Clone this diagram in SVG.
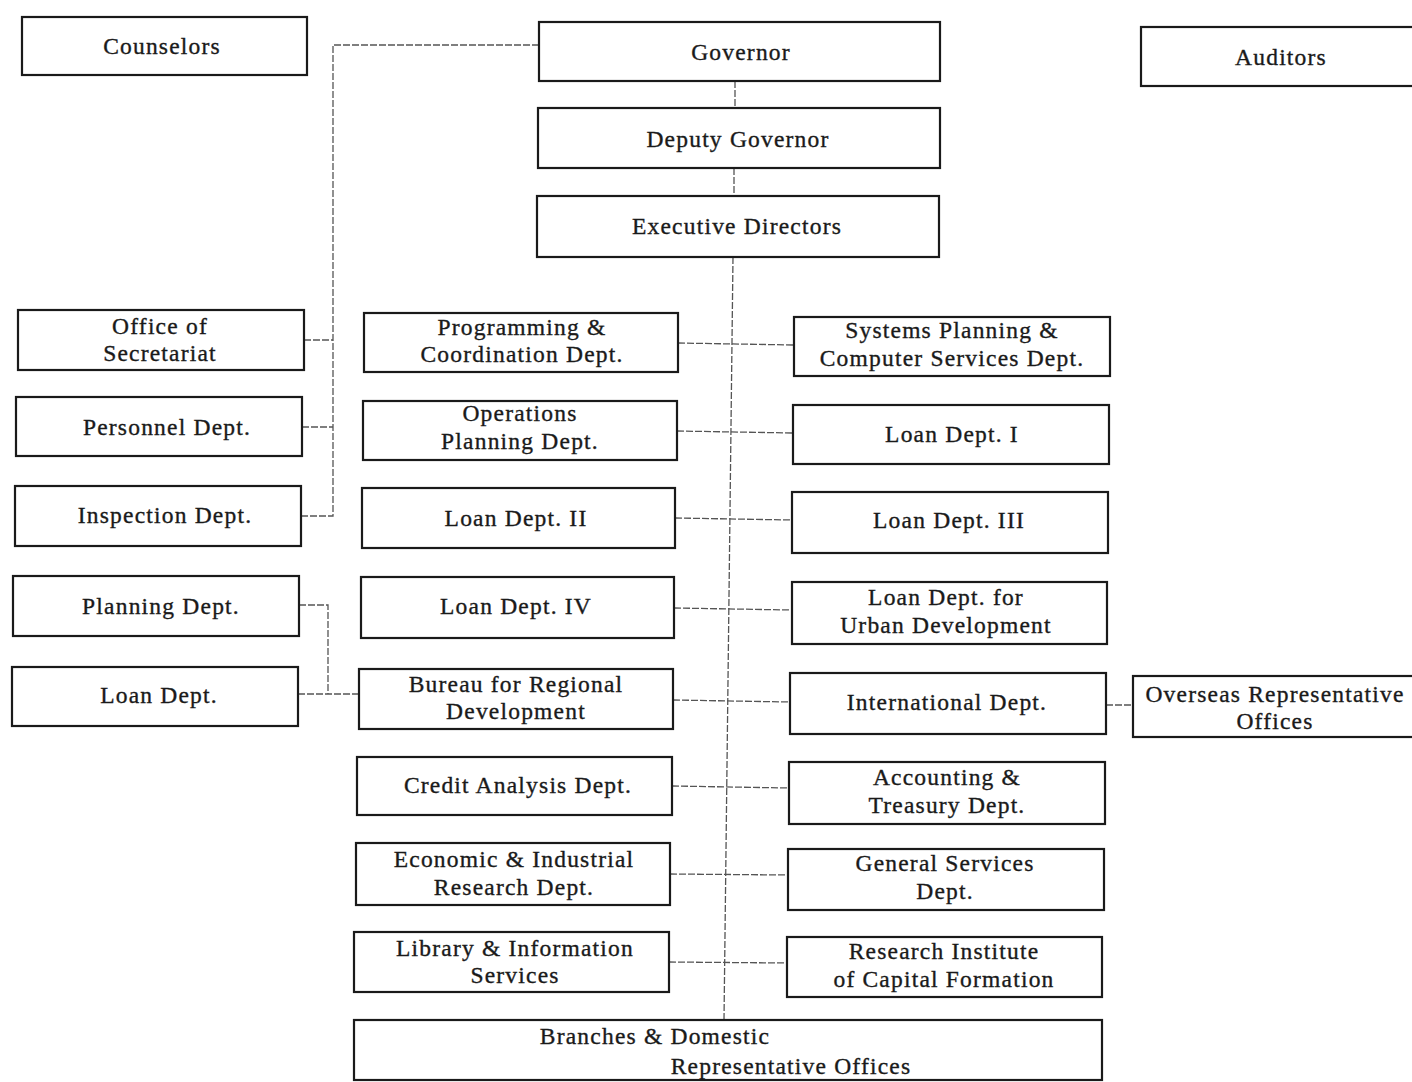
<svg xmlns="http://www.w3.org/2000/svg" width="1412" height="1082" viewBox="0 0 1412 1082">
<style>
.b{fill:#fff;stroke:#1a1a1a;stroke-width:2.2}
.t{font-family:"Liberation Serif","DejaVu Serif",serif;font-size:23.5px;letter-spacing:1.2px;fill:#1a1a1a;stroke:#1a1a1a;stroke-width:0.35;text-anchor:middle}
.c{fill:none;stroke:#555;stroke-width:1.3;stroke-dasharray:7 2}
</style>
<rect width="1412" height="1082" fill="#fff"/>
<g id="connectors">
<polyline class="c" points="539,45 333,45 333,516 301,516"/>
<line class="c" x1="304" y1="340" x2="333" y2="340"/>
<line class="c" x1="302" y1="427" x2="333" y2="427"/>
<line class="c" x1="735" y1="81" x2="735" y2="108"/>
<line class="c" x1="734" y1="168" x2="734" y2="196"/>
<line class="c" x1="733" y1="257" x2="724" y2="1020"/>
<line class="c" x1="678" y1="343" x2="794" y2="345"/>
<line class="c" x1="677" y1="431" x2="793" y2="433"/>
<line class="c" x1="675" y1="518" x2="792" y2="520"/>
<line class="c" x1="674" y1="608" x2="792" y2="610"/>
<line class="c" x1="673" y1="700" x2="790" y2="702"/>
<line class="c" x1="672" y1="786" x2="789" y2="788"/>
<line class="c" x1="670" y1="874" x2="788" y2="875"/>
<line class="c" x1="669" y1="962" x2="787" y2="963"/>
<polyline class="c" points="299,605 328,605 328,694"/>
<line class="c" x1="298" y1="694" x2="359" y2="694"/>
<line class="c" x1="1106" y1="705" x2="1133" y2="705"/>
</g>
<g id="counselors"><rect class="b" x="22" y="17" width="285" height="58"/><text class="t" x="162" y="54">Counselors</text></g>
<g id="governor"><rect class="b" x="539" y="22" width="401" height="59"/><text class="t" x="741" y="60">Governor</text></g>
<g id="auditors"><rect class="b" x="1141" y="27" width="275" height="59"/><text class="t" x="1281" y="65">Auditors</text></g>
<g id="deputy"><rect class="b" x="538" y="108" width="402" height="60"/><text class="t" x="738" y="147">Deputy Governor</text></g>
<g id="exec"><rect class="b" x="537" y="196" width="402" height="61"/><text class="t" x="737" y="234">Executive Directors</text></g>
<g id="secretariat"><rect class="b" x="18" y="310" width="286" height="60"/><text class="t" x="160" y="334">Office of</text><text class="t" x="160" y="361">Secretariat</text></g>
<g id="personnel"><rect class="b" x="16" y="397" width="286" height="59"/><text class="t" x="167" y="435">Personnel Dept.</text></g>
<g id="inspection"><rect class="b" x="15" y="486" width="286" height="60"/><text class="t" x="165" y="523">Inspection Dept.</text></g>
<g id="planning"><rect class="b" x="13" y="576" width="286" height="60"/><text class="t" x="161" y="614">Planning Dept.</text></g>
<g id="loan"><rect class="b" x="12" y="667" width="286" height="59"/><text class="t" x="159" y="703">Loan Dept.</text></g>
<g id="programming"><rect class="b" x="364" y="313" width="314" height="59"/><text class="t" x="522" y="335">Programming &amp;</text><text class="t" x="522" y="362">Coordination Dept.</text></g>
<g id="operations"><rect class="b" x="363" y="401" width="314" height="59"/><text class="t" x="520" y="421">Operations</text><text class="t" x="520" y="449">Planning Dept.</text></g>
<g id="loan2"><rect class="b" x="362" y="488" width="313" height="60"/><text class="t" x="516" y="526">Loan Dept. II</text></g>
<g id="loan4"><rect class="b" x="361" y="577" width="313" height="61"/><text class="t" x="516" y="614">Loan Dept. IV</text></g>
<g id="bureau"><rect class="b" x="359" y="669" width="314" height="60"/><text class="t" x="516" y="692">Bureau for Regional</text><text class="t" x="516" y="719">Development</text></g>
<g id="credit"><rect class="b" x="357" y="757" width="315" height="58"/><text class="t" x="518" y="793">Credit Analysis Dept.</text></g>
<g id="economic"><rect class="b" x="356" y="843" width="314" height="62"/><text class="t" x="514" y="867">Economic &amp; Industrial</text><text class="t" x="514" y="895">Research Dept.</text></g>
<g id="library"><rect class="b" x="354" y="932" width="315" height="60"/><text class="t" x="515" y="956">Library &amp; Information</text><text class="t" x="515" y="983">Services</text></g>
<g id="branches"><rect class="b" x="354" y="1020" width="748" height="60"/><text class="t" x="655" y="1044">Branches &amp; Domestic</text><text class="t" x="791" y="1074">Representative Offices</text></g>
<g id="systems"><rect class="b" x="794" y="317" width="316" height="59"/><text class="t" x="952" y="338">Systems Planning &amp;</text><text class="t" x="952" y="366">Computer Services Dept.</text></g>
<g id="loan1"><rect class="b" x="793" y="405" width="316" height="59"/><text class="t" x="952" y="442">Loan Dept. I</text></g>
<g id="loan3"><rect class="b" x="792" y="492" width="316" height="61"/><text class="t" x="949" y="528">Loan Dept. III</text></g>
<g id="urban"><rect class="b" x="792" y="582" width="315" height="62"/><text class="t" x="946" y="605">Loan Dept. for</text><text class="t" x="946" y="633">Urban Development</text></g>
<g id="international"><rect class="b" x="790" y="673" width="316" height="61"/><text class="t" x="947" y="710">International Dept.</text></g>
<g id="accounting"><rect class="b" x="789" y="762" width="316" height="62"/><text class="t" x="947" y="785">Accounting &amp;</text><text class="t" x="947" y="813">Treasury Dept.</text></g>
<g id="general"><rect class="b" x="788" y="849" width="316" height="61"/><text class="t" x="945" y="871">General Services</text><text class="t" x="945" y="899">Dept.</text></g>
<g id="research"><rect class="b" x="787" y="937" width="315" height="60"/><text class="t" x="944" y="959">Research Institute</text><text class="t" x="944" y="987">of Capital Formation</text></g>
<g id="overseas"><rect class="b" x="1133" y="676" width="283" height="61"/><text class="t" x="1275" y="702">Overseas Representative</text><text class="t" x="1275" y="729">Offices</text></g>
</svg>
